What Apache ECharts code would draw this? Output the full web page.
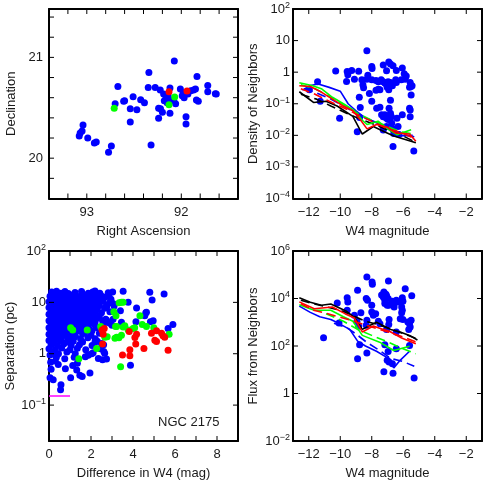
<!DOCTYPE html>
<html>
<head>
<meta charset="utf-8">
<script src="https://cdn.jsdelivr.net/npm/echarts@6.0.0/dist/echarts.min.js"></script>
<style>
  html, body { margin: 0; padding: 0; background: #fff; }
  #chart { width: 485px; height: 486px; }
</style>
</head>
<body>
<div id="chart"></div>
<script>
// ---- panel 1: positions (RA, Dec) ----
const posBlue = [
  [92.074,20.964],[92.343,20.85],[91.834,20.81],[92.671,20.71],[92.35,20.70],[92.276,20.70],
  [92.223,20.677],[92.12,20.696],[92.187,20.637],[92.16,20.60],[92.18,20.57],[92.15,20.55],
  [92.14,20.62],[92.01,20.686],[91.98,20.65],[91.99,20.62],[91.97,20.60],[91.93,20.637],
  [91.90,20.67],[91.87,20.677],[91.85,20.686],[91.72,20.72],[91.72,20.66],[91.64,20.64],
  [91.63,20.637],[91.84,20.578],[91.82,20.565],[92.06,20.54],[92.08,20.57],[92.12,20.58],
  [92.24,20.495],[92.22,20.49],[92.20,20.455],[92.12,20.445],[92.24,20.396],[91.95,20.41],
  [91.95,20.34],[92.32,20.13],[92.51,20.61],[92.60,20.57],[92.61,20.565],[92.43,20.58],
  [92.39,20.55],[92.70,20.54],[92.54,20.49],[92.47,20.48],[92.54,20.36],[93.04,20.33],
  [93.05,20.27],[93.07,20.25],[93.08,20.22],[92.99,20.20],[92.90,20.16],[92.92,20.15],
  [92.74,20.12],[92.77,20.06]
];
const posRed = [[92.13,20.66],[91.94,20.667]];
const posGreen = [[92.71,20.495],[92.07,20.607],[92.13,20.53]];
const raTicks = [91.6,91.8,92,92.2,92.4,92.6,92.8,93,93.2];
const raLabels = [92,93];
const decTicks = [19.8,20,20.2,20.4,20.6,20.8,21,21.2,21.4];
const decLabels = [20,21];

// ---- panel 2: density of neighbours vs W4 magnitude ----
const densDots = [
  [-8.31,4.75],[-10.29,1.08],[-9.56,1.05],[-9.27,1.12],[-9.52,0.83],[-9.6,0.51],[-9.1,0.6],
  [-8.83,1.07],[-8.63,0.58],[-8.56,0.4],[-8.52,0.32],[-8.31,0.6],[-8.25,0.8],[-8.0,1.5],
  [-7.98,1.3],[-8.0,0.58],[-7.73,0.27],[-8.15,0.21],[-8.79,0.16],[-8.73,0.076],[-8.77,0.037],
  [-8.92,0.013],[-7.27,1.7],[-7.06,1.1],[-6.92,2.1],[-6.81,1.8],[-6.65,1.6],[-6.06,1.35],
  [-6.44,1.12],[-5.94,0.89],[-5.88,0.6],[-6.125,0.58],[-6.48,0.58],[-6.44,0.47],[-5.81,0.76],
  [-5.56,0.47],[-5.5,0.35],[-5.44,0.37],[-5.6,0.33],[-7.27,0.5],[-7.17,0.45],[-7.06,0.4],
  [-7.02,0.33],[-6.92,0.28],[-6.96,0.5],[-6.81,0.47],[-6.69,0.37],[-7.48,0.28],[-7.58,0.29],
  [-7.73,0.54],[-7.58,0.5],[-7.4,0.58],[-8.0,0.12],[-7.69,0.072],[-7.48,0.078],[-7.375,0.045],
  [-7.27,0.039],[-7.17,0.045],[-7.06,0.035],[-6.96,0.032],[-6.9,0.072],[-6.81,0.13],
  [-6.81,0.05],[-6.75,0.039],[-6.73,0.024],[-6.69,0.0166],[-6.6,0.0115],[-7.06,0.019],
  [-7.27,0.018],[-7.27,0.0148],[-6.33,0.019],[-6.27,0.0107],[-6.06,0.045],[-6.4,0.035],
  [-5.6,0.072],[-5.56,0.063],[-5.56,0.039],[-5.5,0.19],[-6.65,0.0044],[-5.33,0.0032],
  [-10.04,0.035],[-11.27,0.12],[-11.96,0.28],[-11.44,0.5]
];
const densBlackSolid = [[-12.6,0.24],[-11.7,0.11],[-10.9,0.12],[-10.2,0.085],[-9.2,0.04],[-8.6,0.011],[-7.9,0.019],[-7.2,0.013],[-6.6,0.0095],[-5.2,0.0058]];
const densBlackDash = [[-12.5,0.2],[-11.5,0.14],[-10.6,0.085],[-9.6,0.05],[-8.7,0.032],[-7.8,0.022],[-6.9,0.014],[-6.0,0.0095],[-5.2,0.006]];
const densBlueSolid = [[-12.4,0.27],[-11.9,0.38],[-11.4,0.42],[-10.7,0.33],[-10.0,0.25],[-9.5,0.1],[-9.0,0.06],[-8.4,0.035],[-7.7,0.025],[-7.0,0.017],[-6.4,0.0095],[-5.4,0.01]];
const densBlueDash = [[-12.3,0.3],[-11.5,0.22],[-10.6,0.14],[-9.7,0.08],[-8.8,0.045],[-7.9,0.028],[-7.0,0.018],[-6.1,0.011],[-5.3,0.009]];
const densGreenSolid = [[-12.6,0.46],[-11.8,0.38],[-11.2,0.3],[-10.5,0.16],[-9.8,0.1],[-9.1,0.06],[-8.6,0.03],[-8.3,0.022],[-7.6,0.028],[-6.9,0.015],[-6.4,0.0105],[-5.5,0.015]];
const densGreenDash = [[-12.5,0.4],[-11.6,0.3],[-10.7,0.17],[-9.8,0.09],[-8.9,0.05],[-8.0,0.03],[-7.1,0.02],[-6.2,0.013],[-5.4,0.011]];
const densRedSolid = [[-12.6,0.37],[-11.9,0.35],[-11.3,0.25],[-10.6,0.15],[-9.9,0.09],[-9.2,0.06],[-8.7,0.03],[-8.3,0.016],[-7.7,0.022],[-7.0,0.018],[-6.5,0.012],[-5.6,0.011],[-5.2,0.0065]];
const densRedDash = [[-12.5,0.3],[-11.6,0.2],[-10.7,0.12],[-9.8,0.075],[-8.9,0.045],[-8.0,0.028],[-7.1,0.017],[-6.2,0.0125],[-5.3,0.008]];
const magTicks = [-12,-10,-8,-6,-4,-2];
const densTicks = [1e-4,1e-3,1e-2,1e-1,1,10,100];

// ---- panel 3: separation vs difference in W4 ----
const sepBlue = [
  [0.13,16],[0.24,15.2],[0.36,16.5],[0.57,15],[0.76,16.2],[0.92,14.8],[1.24,15.6],[1.55,16.3],
  [1.87,15],[2.08,16],[2.19,16.6],[2.42,15.1],[2.82,15.4],[3.03,16],[3.53,16.5],
  [0.05,13.2],[0.2,14],[0.42,13],[0.63,13.8],[0.81,12.8],[1.02,13.6],[1.18,14.2],[1.38,13],
  [1.62,13.7],[1.79,12.9],[2.0,13.9],[2.24,13.1],[2.47,13.6],[2.68,12.7],
  [0.1,11.8],[0.3,12.3],[0.52,11.5],[0.7,12.1],[0.93,11.7],[1.1,12.4],[1.31,11.4],[1.5,12],
  [1.72,11.6],[1.91,12.2],[2.12,11.5],[2.33,12],[2.58,11.3],
  [0.0,10.3],[0.18,10.8],[0.4,10.1],[0.61,10.6],[0.8,10.2],[1.0,10.9],[1.21,10.4],[1.42,10],
  [1.6,10.7],[1.82,10.1],[2.03,10.6],[2.25,10],[2.5,10.5],[2.9,9.9],
  [0.1,9.2],[0.29,8.8],[0.5,9.3],[0.72,8.7],[0.9,9.1],[1.12,8.6],[1.3,9.3],[1.52,8.8],
  [1.7,9.2],[1.92,8.6],[2.15,9.1],[2.4,8.7],[2.74,9.0],[3.1,8.5],
  [0.0,7.9],[0.21,7.5],[0.4,8.1],[0.6,7.6],[0.82,7.9],[1.0,7.4],[1.2,8.0],[1.41,7.6],
  [1.6,7.8],[1.8,7.3],[2.05,7.9],[2.3,7.5],[2.65,7.7],
  [0.1,6.8],[0.3,6.4],[0.5,6.9],[0.71,6.5],[0.9,6.8],[1.1,6.3],[1.31,6.7],[1.5,6.4],
  [1.7,6.9],[1.95,6.5],[2.2,6.7],[2.5,6.3],[2.9,6.6],
  [0.0,5.9],[0.2,5.6],[0.41,6.0],[0.6,5.7],[0.8,5.9],[1.0,5.5],[1.2,5.8],[1.4,5.6],
  [1.6,6.0],[1.85,5.6],[2.1,5.8],[2.4,5.5],
  [0.1,5.1],[0.3,4.8],[0.5,5.2],[0.7,4.9],[0.9,5.1],[1.1,4.7],[1.3,5.0],[1.5,4.8],
  [1.75,5.2],[2.0,4.8],[2.3,5.0],[2.7,4.7],
  [0.0,4.4],[0.2,4.1],[0.4,4.5],[0.6,4.2],[0.8,4.4],[1.0,4.1],[1.2,4.3],[1.45,4.0],
  [1.7,4.4],[1.95,4.1],[2.2,4.3],
  [0.1,3.8],[0.3,3.5],[0.5,3.9],[0.7,3.6],[0.9,3.7],[1.15,3.5],[1.4,3.8],[1.65,3.5],
  [1.9,3.8],[2.2,3.6],[2.6,3.8],[3.0,3.6],
  [0.0,3.2],[0.2,3.0],[0.4,3.3],[0.6,3.1],[0.85,3.3],[1.3,3.0],[1.55,3.3],[1.9,3.1],[2.3,3.2],
  [0.1,2.8],[0.3,2.6],[0.5,2.9],[0.75,2.7],[1.0,2.6],[1.45,2.8],[1.7,2.6],[2.05,2.8],
  [0.0,2.4],[0.2,2.3],[0.45,2.5],[0.7,2.35],[0.95,2.45],[1.25,2.3],[1.6,2.45],[2.0,2.3],[2.4,2.5],
  [0.1,2.1],[0.35,1.95],[0.6,2.1],[0.9,2.0],[1.2,2.1],[1.5,1.95],[1.85,2.05],[2.2,1.95],
  [0.0,1.8],[0.25,1.7],[0.55,1.8],[0.85,1.7],[1.15,1.75],[1.6,1.7],[2.3,1.75],
  [0.1,1.5],[0.4,1.45],[0.7,1.55],[1.05,1.45],[1.45,1.5],[2.05,1.45],[2.6,1.5],
  [0.0,1.25],[0.3,1.2],[0.6,1.3],[1.0,1.2],[1.35,1.28],[1.75,1.2],[2.45,1.25],
  [0.15,1.05],[0.45,1.0],[0.85,1.08],[1.25,1.0],[2.1,1.05],[2.65,1.02],
  [0.05,0.94],[0.08,0.68],[0.1,0.5],[0.05,0.34],[0.2,0.31],[0.57,0.25],[0.55,0.2],[1.03,0.34],
  [1.47,0.38],[1.58,0.36],[1.95,0.42],[0.44,0.62],[0.78,0.51],[1.13,0.59],[1.32,0.48],
  [1.35,0.65],[1.73,0.87],[1.87,0.93],[2.03,1.0],[2.35,0.81],[2.55,0.76],[2.74,0.79],
  [2.61,1.1],[2.5,1.58],[2.19,1.7],[0.35,0.85],[0.75,0.8],[1.2,0.85],[0.3,0.72],
  [2.85,13.5],[2.95,11.5],[3.05,9.5],[2.75,8.2],[2.74,4.5],[3.05,4.7],[2.9,3.9],[2.55,4.4],
  [4.8,15.7],[5.48,14.5],[4.91,11.1],[4.64,6.4],[4.56,5.5],[4.14,4.2],[4.83,4.2],[4.96,4.4],
  [5.9,3.7],[3.88,0.6],[3.77,10],[4.17,7.8],[4.61,6.3],[3.4,6.9],[3.45,4.1],[5.67,3.1]
];
const sepGreen = [
  [1.03,3.2],[1.13,2.9],[1.82,2.9],[2.27,1.26],[1.42,0.8],[2.46,3.4],[2.5,3.2],[2.66,2.1],
  [2.77,2.14],[3.14,2.0],[3.22,3.4],[3.19,5.5],[3.09,6.6],[3.34,9.8],[3.45,10],[3.53,10],
  [3.45,2.3],[3.33,2.05],[3.41,0.56],[3.77,2.9],[4.0,3.1],[4.08,3.2],[4.33,5.5],[4.44,3.7],
  [4.64,3.4],[4.99,3.2],[5.72,2.4],[3.61,3.5],[3.17,3.4],[3.22,2.1],[3.53,3.3]
];
const sepRed = [
  [2.53,2.9],[2.63,3.1],[2.58,2.4],[2.55,1.55],[3.82,2.72],[4.09,2.08],[4.17,2.4],[4.13,1.55],
  [4.52,1.26],[3.85,1.19],[3.85,0.91],[3.5,0.95],[4.88,2.5],[5.12,2.8],[5.36,2.5],[5.43,2.24],
  [5.51,2.1],[5.04,1.84],[5.12,1.74],[5.67,1.17]
];
const sepLimit = [[0,0.15],[1.0,0.15]];
const diffTicks = [1,2,3,4,5,6,7,8];
const diffLabels = [0,2,4,6,8];
const sepTicks = [0.1,1,10];

// ---- panel 4: flux from neighbours vs W4 magnitude ----
const fluxDots = [
  [-8.31,8.1e4],[-7.98,5e4],[-7.96,4e4],[-6.94,5.5e4],[-5.875,2.6e4],[-8.9,2.2e4],[-7.23,1.9e4],
  [-7.375,1.4e4],[-7.1,1.5e4],[-7.06,1.3e4],[-6.96,1e4],[-7.27,1.17e4],[-7.17,8.5e3],
  [-7.17,6.2e3],[-7.02,5.2e3],[-6.92,5.2e3],[-6.69,7.6e3],[-6.65,5.9e3],[-6.58,4.4e3],
  [-6.44,8.5e3],[-6.35,7.2e3],[-6.06,1.07e4],[-6.02,7.6e3],[-6.1,4.4e3],[-6.06,3.2e3],
  [-6.1,2.5e3],[-5.46,1.3e4],[-8.35,1e4],[-8.27,8.5e3],[-8.0,5.2e3],[-8.0,2.7e3],[-7.9,1.95e3],
  [-7.75,2.3e3],[-8.69,2.5e3],[-9.56,1.07e4],[-9.52,7.2e3],[-9.56,3.2e3],[-10.19,6.5e3],
  [-9.1,1.95e3],[-8.94,1.1e3],[-8.83,680],[-8.31,1.2e3],[-8.35,740],[-7.58,1.1e3],[-7.48,870],
  [-6.92,800],[-7.06,500],[-6.9,1.3e3],[-6.19,1.4e3],[-6.02,1.3e3],[-5.71,1.02e3],[-5.6,870],
  [-5.56,630],[-5.5,1.2e3],[-5.65,500],[-11.06,220],[-10.08,930],[-8.77,112],[-8.31,51],
  [-8.9,29],[-7.17,112],[-6.96,59],[-7.02,25],[-6.9,21],[-6.69,18],[-6.44,76],[-5.6,105],
  [-7.23,8.3],[-6.65,7.1],[-5.31,4.5],[-6.44,390]
];
const fluxBlackSolid = [[-12.6,1.07e4],[-11.9,7e3],[-11.2,5.2e3],[-10.6,5.9e3],[-9.6,2.9e3],[-9.1,1.6e3],[-8.6,500],[-8.0,800],[-7.7,1e3],[-6.8,500],[-6.2,390],[-5.6,280],[-5.1,180]];
const fluxBlackDash = [[-12.5,8.5e3],[-11.7,6e3],[-10.9,4.5e3],[-10.0,3.2e3],[-9.2,1.9e3],[-8.4,1.1e3],[-7.6,800],[-6.8,520],[-6.0,330],[-5.1,200]];
const fluxRedSolid = [[-12.6,7.2e3],[-11.65,3.7e3],[-10.5,4.4e3],[-9.7,2.3e3],[-9.1,1.5e3],[-8.6,390],[-7.9,690],[-7.5,560],[-6.85,410],[-6.1,215],[-5.2,123]];
const fluxRedDash = [[-12.5,6e3],[-11.7,3.2e3],[-10.9,2.4e3],[-10.1,1.7e3],[-9.3,1.2e3],[-8.5,800],[-7.7,550],[-6.9,380],[-6.1,250],[-5.2,150]];
const fluxGreenSolid = [[-12.6,5.5e3],[-11.65,3.2e3],[-10.6,3.2e3],[-9.8,1.7e3],[-9.2,1.1e3],[-8.6,280],[-7.5,145],[-6.6,65],[-5.6,98]];
const fluxGreenDash = [[-10.9,2.3e3],[-9.8,1.1e3],[-8.9,500],[-8.0,280],[-7.0,150],[-6.1,80],[-5.2,47]];
const fluxBlueSolid = [[-12.6,4.8e3],[-11.9,2.6e3],[-11.3,1.7e3],[-10.6,1.3e3],[-10.1,900],[-9.4,500],[-8.9,160],[-8.4,100],[-7.7,60],[-7.1,35],[-6.6,12],[-6.2,25],[-5.6,60]];
const fluxBlueDash = [[-10.4,900],[-9.6,600],[-9.0,320],[-8.3,140],[-7.5,65],[-6.8,30],[-6.0,22],[-5.3,14]];
const fluxTicks = [1,1e2,1e4];
const fluxLabels = [1e-2,1,1e2,1e4,1e6];

const FONT = 'Liberation Sans, Arial, Helvetica, sans-serif';
const INK = '#1a1a1a';
const TICK_LEN = 5;

// 10^n tick labels with a raised exponent
function powLabel(v) {
  const e = Math.round(Math.log10(v));
  if (e === 0) return '{b|1}';
  if (e === 1) return '{b|10}';
  return '{b|10}{s|' + (e < 0 ? '\u2212' + (-e) : e) + '}';
}
const powRich = {
  b: { fontSize: 13, fontFamily: FONT, color: INK },
  s: { fontSize: 9, fontFamily: FONT, color: INK, padding: [0, 0, 7, 0] }
};
function numLabel(v) {
  return v < 0 ? '\u2212' + (-v) : String(v);
}

function axisBase(extra) {
  return Object.assign({
    axisLine: { show: true, onZero: false, lineStyle: { color: '#000', width: 2 } },
    axisTick: { show: false },
    splitLine: { show: false },
    nameLocation: 'middle',
    nameTextStyle: { fontSize: 13, fontFamily: FONT, color: INK }
  }, extra);
}

const xDefs = [
  { type: 'value', min: 91.4, max: 93.4, inverse: true, name: 'Right Ascension', labels: raLabels },
  { type: 'value', min: -13, max: -1, name: 'W4 magnitude', labels: magTicks },
  { type: 'value', min: 0, max: 9, name: 'Difference in W4 (mag)', labels: diffLabels },
  { type: 'value', min: -13, max: -1, name: 'W4 magnitude', labels: magTicks }
];
const yDefs = [
  { type: 'value', min: 19.6, max: 21.48, name: 'Declination', nameGap: 31, labels: decLabels },
  { type: 'log', min: 1e-4, max: 100, name: 'Density of Neighbors', nameGap: 33, labels: densTicks, pow: true },
  { type: 'log', min: 0.02, max: 100, name: 'Separation (pc)', nameGap: 32, labels: [0.1,1,10,100], pow: true },
  { type: 'log', min: 1e-2, max: 1e6, name: 'Flux from Neighbors', nameGap: 33, labels: fluxLabels, pow: true }
];

const xAxis = [];
const yAxis = [];
xDefs.forEach((d, i) => {
  xAxis.push(axisBase({
    gridIndex: i, type: d.type, min: d.min, max: d.max, inverse: !!d.inverse, position: 'bottom',
    name: d.name, nameGap: 26,
    axisLabel: { margin: 7, fontSize: 13, fontFamily: FONT, color: INK, formatter: numLabel, customValues: d.labels }
  }));
});
xDefs.forEach((d, i) => {
  xAxis.push(axisBase({
    gridIndex: i, type: d.type, min: d.min, max: d.max, inverse: !!d.inverse, position: 'top',
    axisLabel: { show: false }
  }));
});
yDefs.forEach((d, i) => {
  const extra = d.type === 'log' ? { logBase: 10 } : {};
  yAxis.push(axisBase(Object.assign({
    gridIndex: i, type: d.type, min: d.min, max: d.max, position: 'left',
    name: d.name, nameGap: d.nameGap,
    axisLabel: d.pow
      ? { margin: 3, formatter: powLabel, rich: powRich, customValues: d.labels }
      : { margin: 6, fontSize: 13, fontFamily: FONT, color: INK, formatter: numLabel, customValues: d.labels }
  }, extra)));
});
yDefs.forEach((d, i) => {
  const extra = d.type === 'log' ? { logBase: 10 } : {};
  yAxis.push(axisBase(Object.assign({
    gridIndex: i, type: d.type, min: d.min, max: d.max, position: 'right',
    axisLabel: { show: false }
  }, extra)));
});

// inward tick marks on all four sides of a panel, placed through the panel's own axes
function tickMarks(i, xTicks, yTicks) {
  const xr = [xDefs[i].min, xDefs[i].max];
  const yr = [yDefs[i].min, yDefs[i].max];
  const data = xTicks.map(v => [v, yr[0], 0]).concat(yTicks.map(v => [xr[0], v, 1]));
  return {
    type: 'custom', xAxisIndex: i, yAxisIndex: i, data: data, silent: true, clip: false, z: 10,
    renderItem: function (params, api) {
      const kind = api.value(2);
      const style = { stroke: '#000', lineWidth: 1 };
      if (kind === 0) {
        const v = api.value(0);
        const a = api.coord([v, yr[0]]);
        const b = api.coord([v, yr[1]]);
        const bottom = Math.max(a[1], b[1]);
        const top = Math.min(a[1], b[1]);
        return { type: 'group', children: [
          { type: 'line', shape: { x1: a[0], y1: bottom, x2: a[0], y2: bottom - TICK_LEN }, style: style },
          { type: 'line', shape: { x1: a[0], y1: top, x2: a[0], y2: top + TICK_LEN }, style: style }
        ] };
      }
      const v = api.value(1);
      const a = api.coord([xr[0], v]);
      const b = api.coord([xr[1], v]);
      const left = Math.min(a[0], b[0]);
      const right = Math.max(a[0], b[0]);
      return { type: 'group', children: [
        { type: 'line', shape: { x1: left, y1: a[1], x2: left + TICK_LEN, y2: a[1] }, style: style },
        { type: 'line', shape: { x1: right, y1: a[1], x2: right - TICK_LEN, y2: a[1] }, style: style }
      ] };
    }
  };
}

function dots(i, data, color, z) {
  return { type: 'scatter', xAxisIndex: i, yAxisIndex: i, data: data, symbol: 'circle', symbolSize: 7,
           itemStyle: { color: color, opacity: 1 }, silent: true, z: z || 2 };
}
function curve(i, data, color, dashed) {
  return { type: 'line', xAxisIndex: i, yAxisIndex: i, data: data, symbol: 'none', showSymbol: false,
           lineStyle: { color: color, width: 1.6, type: dashed ? [9, 5] : 'solid' }, silent: true, z: 5 };
}

const series = [
  dots(0, posBlue, '#0000ff'), dots(0, posGreen, '#00ff00', 3), dots(0, posRed, '#ff0000', 3),

  dots(1, densDots, '#0000ff'),
  curve(1, densBlueDash, '#0000ff', true), curve(1, densBlueSolid, '#0000ff'),
  curve(1, densBlackDash, '#000000', true), curve(1, densBlackSolid, '#000000'),
  curve(1, densGreenDash, '#00ff00', true), curve(1, densGreenSolid, '#00ff00'),
  curve(1, densRedDash, '#ff0000', true), curve(1, densRedSolid, '#ff0000'),

  dots(2, sepBlue, '#0000ff'), dots(2, sepGreen, '#00ff00', 3), dots(2, sepRed, '#ff0000', 4),
  { type: 'line', xAxisIndex: 2, yAxisIndex: 2, data: sepLimit, symbol: 'none',
    lineStyle: { color: '#ff00ff', width: 1.5 }, silent: true, z: 5 },

  dots(3, fluxDots, '#0000ff'),
  curve(3, fluxBlueDash, '#0000ff', true), curve(3, fluxBlueSolid, '#0000ff'),
  curve(3, fluxGreenDash, '#00ff00', true), curve(3, fluxGreenSolid, '#00ff00'),
  curve(3, fluxBlackDash, '#000000', true), curve(3, fluxBlackSolid, '#000000'),
  curve(3, fluxRedDash, '#ff0000', true), curve(3, fluxRedSolid, '#ff0000'),

  tickMarks(0, raTicks, decTicks),
  tickMarks(1, magTicks, densTicks.slice(1, -1)),
  tickMarks(2, diffTicks, sepTicks),
  tickMarks(3, magTicks, fluxTicks)
];

const chart = echarts.init(document.getElementById('chart'), null, { renderer: 'canvas' });
chart.setOption({
  animation: false,
  backgroundColor: '#ffffff',
  textStyle: { fontFamily: FONT },
  grid: [
    { left: 49, top: 9, width: 189, height: 189.5 },
    { left: 293, top: 9, width: 189, height: 189.5 },
    { left: 49, top: 251, width: 189, height: 190 },
    { left: 293, top: 251, width: 189, height: 190 }
  ],
  xAxis: xAxis,
  yAxis: yAxis,
  graphic: [{
    type: 'text', left: 158, top: 416,
    style: { text: 'NGC 2175', fontSize: 13, fontFamily: FONT, fill: INK }
  }],
  series: series
});
</script>
</body>
</html>
